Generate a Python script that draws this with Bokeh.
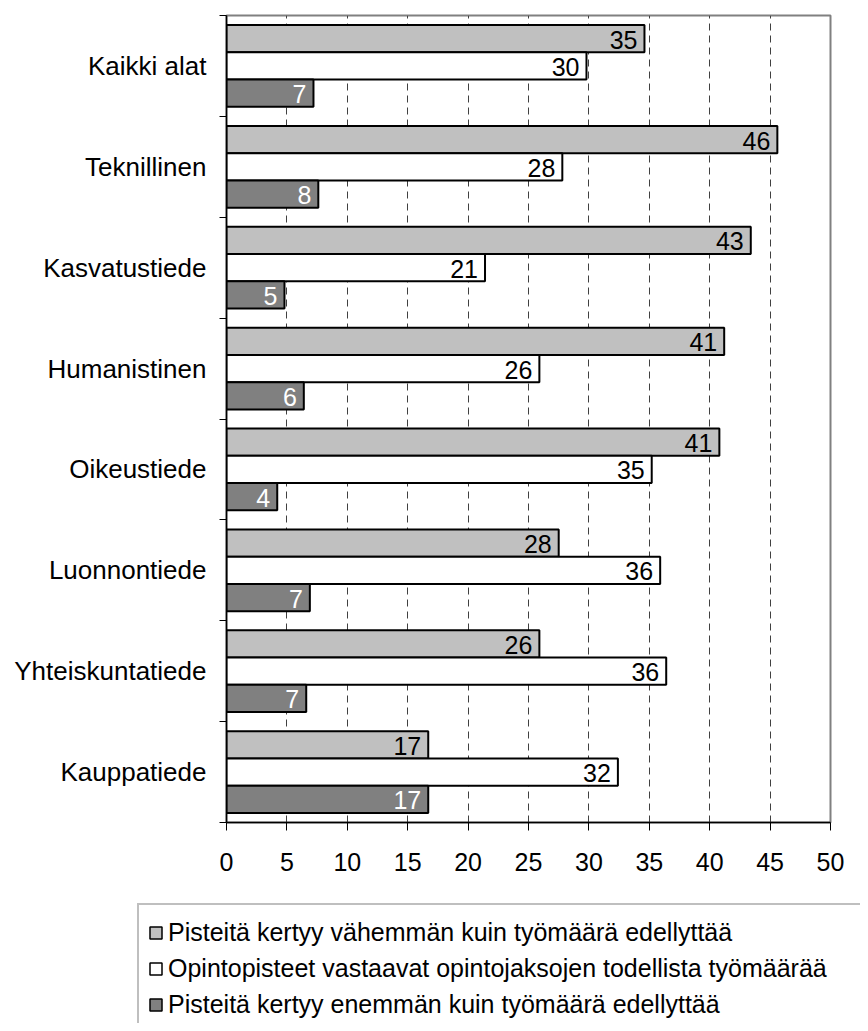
from bokeh.plotting import figure
from bokeh.layouts import column
from bokeh.models import (ColumnDataSource, Range1d, FixedTicker, Legend, LegendItem)
from bokeh.core.properties import value
from bokeh.embed import file_html
from bokeh.resources import INLINE

# ---- data (top to bottom as in the chart) ----
categories = ["Kaikki alat", "Teknillinen", "Kasvatustiede", "Humanistinen",
              "Oikeustiede", "Luonnontiede", "Yhteiskuntatiede", "Kauppatiede"]
less_values = [34.6, 45.6, 43.4, 41.2, 40.8, 27.5, 25.9, 16.7]
match_values = [29.8, 27.8, 21.4, 25.9, 35.2, 35.9, 36.4, 32.4]
more_values = [7.2, 7.6, 4.8, 6.4, 4.2, 6.9, 6.6, 16.7]
series_names = ["Pisteitä kertyy vähemmän kuin työmäärä edellyttää",
                "Opintopisteet vastaavat opintojaksojen todellista työmäärää",
                "Pisteitä kertyy enemmän kuin työmäärä edellyttää"]
x_ticks = [0, 5, 10, 15, 20, 25, 30, 35, 40, 45, 50]

FONT = "Liberation Sans"
FS = "25px"

n = len(categories)
centers = [n - 1 - i + 0.5 for i in range(n)]
boundaries = list(range(n + 1))

p = figure(output_backend="svg", toolbar_location=None,
           frame_width=604, frame_height=807,
           min_border_left=226, min_border_right=30,
           min_border_top=15, min_border_bottom=58,
           x_range=Range1d(0, 50), y_range=Range1d(0, n))
p.frame_align = False
p.background_fill_color = "white"
p.border_fill_color = "white"
p.outline_line_color = "#808080"
p.outline_line_width = 2

fills = ["#C0C0C0", "#FFFFFF", "#808080"]
label_colors = ["black", "black", "white"]
offsets = [0.27, 0.0, -0.27]
bar_h = 0.27

sources = []
for vals, fill, lc, off in zip([less_values, match_values, more_values], fills, label_colors, offsets):
    src = ColumnDataSource(dict(
        y=[c + off for c in centers],
        x=vals,
        label=[f"{v:.0f}" for v in vals],
    ))
    sources.append(src)
    p.hbar(y="y", left=0, right="x", height=bar_h, source=src,
           fill_color=fill, line_color="black", line_width=2)
    p.text(x="x", y="y", text="label", source=src, text_align="right",
           text_baseline="middle", x_offset=-7, y_offset=1,
           text_font=value(FONT), text_font_size=FS, text_color=lc)

# x axis
xa = p.xaxis[0]
xa.ticker = FixedTicker(ticks=x_ticks)
xa.axis_line_color = "black"
xa.axis_line_width = 1.5
xa.major_tick_out = 8
xa.major_tick_in = 0
xa.major_tick_line_color = "black"
xa.minor_tick_line_color = None
xa.major_label_text_font = FONT
xa.major_label_text_font_size = FS
xa.major_label_text_color = "black"
xa.major_label_standoff = 22

# y axis
ya = p.yaxis[0]
ya.ticker = FixedTicker(ticks=centers, minor_ticks=boundaries)
ya.major_label_overrides = {c: name for c, name in zip(centers, categories)}
ya.axis_line_color = "black"
ya.axis_line_width = 1.5
ya.major_tick_line_color = None
ya.major_tick_out = 0
ya.major_tick_in = 0
ya.minor_tick_line_color = "black"
ya.minor_tick_out = 7
ya.minor_tick_in = 0
ya.major_label_text_font = FONT
ya.major_label_text_font_size = "26px"
ya.major_label_text_color = "black"
ya.major_label_standoff = 13

# grids
p.ygrid.grid_line_color = None
p.xgrid.ticker = FixedTicker(ticks=x_ticks)
p.xgrid.grid_line_color = "#404040"
p.xgrid.grid_line_dash = "7 5"
p.xgrid.grid_line_width = 1

# legend panel (separate figure below the chart); its renderers sit
# underneath the opaque legend box, so only the legend is seen
lg = figure(output_backend="svg", toolbar_location=None,
            width=860, height=143, min_border=0,
            min_border_left=0, min_border_right=0,
            min_border_top=0, min_border_bottom=0,
            x_axis_location=None, y_axis_location=None,
            x_range=Range1d(-30, 50), y_range=Range1d(-1, 12))
lg.frame_align = False
lg.outline_line_color = None
lg.grid.grid_line_color = None
lg.background_fill_color = "white"
lg.border_fill_color = "white"

items = []
for nm, fill, src in zip(series_names, fills, sources):
    r = lg.hbar(y="y", left=0, right="x", height=bar_h, source=src,
                fill_color=fill, line_color="black", line_width=1.5)
    items.append(LegendItem(label=nm, renderers=[r]))

legend = Legend(items=items, location=(137, -10), orientation="vertical",
                label_text_font=FONT, label_text_font_size=FS,
                label_text_color="black",
                glyph_width=15, glyph_height=15, label_standoff=5,
                label_height=36, label_width=760, spacing=0, padding=9,
                margin=0,
                border_line_color="#808080", border_line_width=2,
                background_fill_color="white", background_fill_alpha=1)
lg.add_layout(legend, "center")

layout = column(p, lg, spacing=0)
open("out.html", "w").write(file_html(layout, INLINE))
